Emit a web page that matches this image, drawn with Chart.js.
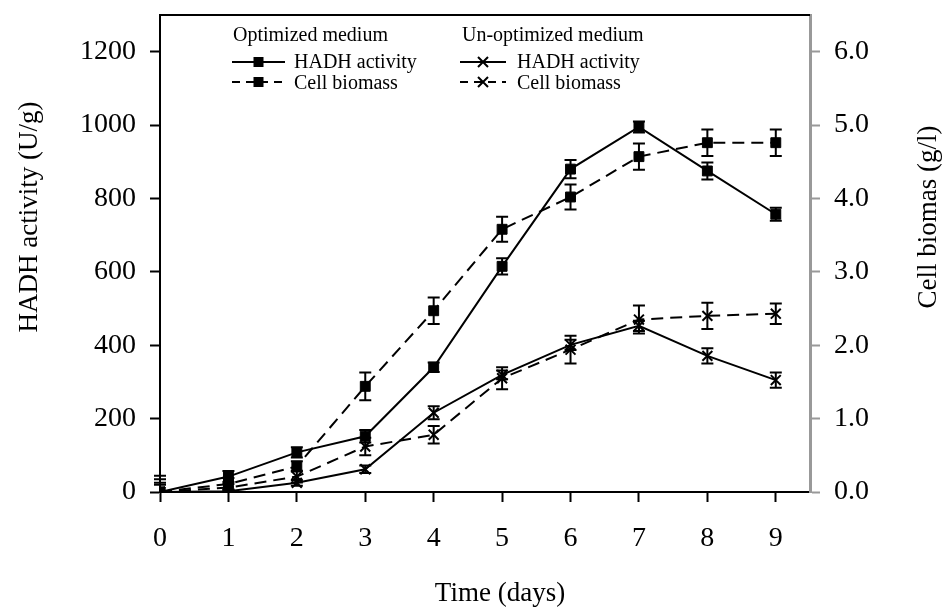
<!DOCTYPE html>
<html>
<head>
<meta charset="utf-8">
<script src="https://cdn.jsdelivr.net/npm/chart.js@4"></script>
<style>
  html, body { margin: 0; padding: 0; background: #fff; }
  #wrap { width: 949px; height: 614px; }
</style>
</head>
<body>
<div id="wrap"><canvas id="c" width="949" height="614"></canvas></div>
<script>
// values
const days = [0, 1, 2, 3, 4, 5, 6, 7, 8, 9];
const optHadh    = [0, 42, 108, 152, 340, 615, 880, 995, 875, 757];
const optHadhErr = [35, 15, 14, 17, 13, 22, 25, 15, 23, 18];
const optBio     = [0, 0.11, 0.35, 1.44, 2.47, 3.58, 4.02, 4.57, 4.76, 4.76];
const optBioErr  = [0.22, 0.08, 0.07, 0.19, 0.18, 0.17, 0.17, 0.18, 0.18, 0.18];
const unHadh     = [0, 2, 25, 62, 216, 319, 401, 453, 371, 305];
const unHadhErr  = [25, 5, 8, 10, 18, 12, 14, 14, 21, 21];
const unBio      = [0, 0.06, 0.21, 0.62, 0.78, 1.55, 1.94, 2.35, 2.40, 2.43];
const unBioErr   = [0.1, 0.05, 0.08, 0.12, 0.12, 0.15, 0.19, 0.19, 0.18, 0.14];

const xTitle = 'Time (days)';
const yTitle = 'HADH activity (U/g)';
const y1Title = 'Cell biomas (g/l)';

const SERIF = "'Liberation Serif', 'DejaVu Serif', serif";
const DASH = [12, 7];

function pts(vals){ return days.map((d,i)=>({x:d, y:vals[i]})) }
const errs = [optHadhErr, optBioErr, unHadhErr, unBioErr];

function ds(label, vals, axis, style, dashed){
  return {
    label, data: pts(vals), yAxisID: axis,
    borderColor:'#000', backgroundColor:'#000', borderWidth:2,
    borderDash: dashed ? DASH : [],
    pointStyle: style, pointRadius: 7, pointBorderWidth: style==='rect' ? 1 : 2,
    pointBackgroundColor:'#000', pointBorderColor:'#000', tension:0
  };
}

// fixed box sizes so the plot area sits where the original's does
function fixBox(w, h){
  return function(s){
    if (w != null) s.width = w;
    if (h != null) s.height = h;
    s.paddingTop = 0; s.paddingBottom = 0; s.paddingLeft = 0; s.paddingRight = 0;
  };
}

const errorBars = {
  id:'errorBars',
  afterDatasetsDraw(chart){
    const ctx = chart.ctx, a = chart.chartArea;
    ctx.save();
    ctx.beginPath(); ctx.rect(a.left - 10, a.top, a.right - a.left + 20, a.bottom - a.top); ctx.clip();
    ctx.strokeStyle = '#000';
    ctx.lineWidth = 2;
    ctx.setLineDash([]);
    chart.data.datasets.forEach((d,k)=>{
      const ys = chart.scales[d.yAxisID], xs = chart.scales.x;
      d.data.forEach((p,i)=>{
        const e = errs[k][i];
        const x = xs.getPixelForValue(p.x);
        const y0 = ys.getPixelForValue(p.y - e), y1 = ys.getPixelForValue(p.y + e);
        ctx.beginPath();
        ctx.moveTo(x, y0); ctx.lineTo(x, y1);
        ctx.moveTo(x-6, y0); ctx.lineTo(x+6, y0);
        ctx.moveTo(x-6, y1); ctx.lineTo(x+6, y1);
        ctx.stroke();
      });
    });
    ctx.restore();
  }
};

function sample(ctx, x0, x1, y, dashed, marker){
  ctx.save();
  ctx.strokeStyle = '#000'; ctx.fillStyle = '#000'; ctx.lineWidth = 2;
  ctx.setLineDash(dashed ? [8, 6] : []);
  ctx.beginPath(); ctx.moveTo(x0, y); ctx.lineTo(x1, y); ctx.stroke();
  ctx.setLineDash([]);
  const mx = (x0 + x1) / 2;
  if (marker === 'rect') ctx.fillRect(mx-5, y-5, 10, 10);
  else { ctx.beginPath(); ctx.moveTo(mx-5,y-5); ctx.lineTo(mx+5,y+5); ctx.moveTo(mx+5,y-5); ctx.lineTo(mx-5,y+5); ctx.stroke(); }
  ctx.restore();
}

const decor = {
  id:'decor',
  afterDraw(chart){
    const ctx = chart.ctx, a = chart.chartArea;
    ctx.save();
    // top frame
    ctx.strokeStyle = '#000'; ctx.lineWidth = 2;
    ctx.beginPath(); ctx.moveTo(a.left, a.top); ctx.lineTo(a.right, a.top); ctx.stroke();

    ctx.fillStyle = '#000';
    ctx.textBaseline = 'middle';
    // axis titles
    ctx.font = '27px ' + SERIF;
    ctx.textAlign = 'center';
    ctx.fillText(xTitle, 500, 594);
    ctx.save(); ctx.translate(30, 217); ctx.rotate(-Math.PI/2); ctx.fillText(yTitle, 0, 0); ctx.restore();
    ctx.save(); ctx.translate(929, 217); ctx.rotate(-Math.PI/2); ctx.fillText(y1Title, 0, 0); ctx.restore();

    // legend
    ctx.font = '20px ' + SERIF;
    ctx.textAlign = 'left';
    ctx.fillText('Optimized medium', 233, 36);
    ctx.fillText('Un-optimized medium', 462, 36);
    sample(ctx, 232, 285, 62, false, 'rect');
    sample(ctx, 232, 285, 82, true, 'rect');
    sample(ctx, 460, 506, 62, false, 'x');
    sample(ctx, 460, 506, 82, true, 'x');
    ctx.fillText('HADH activity', 294, 63);
    ctx.fillText('Cell biomass', 294, 84);
    ctx.fillText('HADH activity', 517, 63);
    ctx.fillText('Cell biomass', 517, 84);
    ctx.restore();
  }
};

const tickFont = { family: SERIF, size: 28 };

new Chart(document.getElementById('c').getContext('2d'), {
  type:'line',
  data:{ datasets:[
    ds('Optimized medium HADH activity', optHadh, 'y', 'rect', false),
    ds('Optimized medium Cell biomass', optBio, 'y1', 'rect', true),
    ds('Un-optimized medium HADH activity', unHadh, 'y', 'crossRot', false),
    ds('Un-optimized medium Cell biomass', unBio, 'y1', 'crossRot', true)
  ]},
  options:{
    responsive:false, animation:false, devicePixelRatio:1,
    layout:{ padding:{ top:15, left:0, right:0, bottom:0 } },
    plugins:{ legend:{display:false}, tooltip:{enabled:false} },
    scales:{
      x:{
        type:'linear', min:0, max:9.5,
        afterFit: fixBox(null, 122),
        border:{ color:'#000', width:2 },
        grid:{ drawOnChartArea:false, drawTicks:true, tickLength:10, tickColor:'#000', tickWidth:2 },
        ticks:{ stepSize:1, includeBounds:false, padding:20, font:tickFont, color:'#000' }
      },
      y:{
        position:'left', min:0, max:1300,
        afterFit: fixBox(160, null),
        border:{ color:'#000', width:2 },
        grid:{ drawOnChartArea:false, drawTicks:true, tickLength:10, tickColor:'#000', tickWidth:2 },
        ticks:{ stepSize:200, includeBounds:false, padding:14, font:tickFont, color:'#000',
                callback:v=>String(v) }
      },
      y1:{
        position:'right', min:0, max:6.5,
        afterFit: fixBox(139, null),
        border:{ color:'#999', width:3 },
        grid:{ drawOnChartArea:false, drawTicks:true, tickLength:10, tickColor:'#999', tickWidth:2 },
        ticks:{ stepSize:1, includeBounds:false, padding:14, font:tickFont, color:'#000',
                callback:v=>Number(v).toFixed(1) }
      }
    }
  },
  plugins:[errorBars, decor]
});
</script>
</body>
</html>
